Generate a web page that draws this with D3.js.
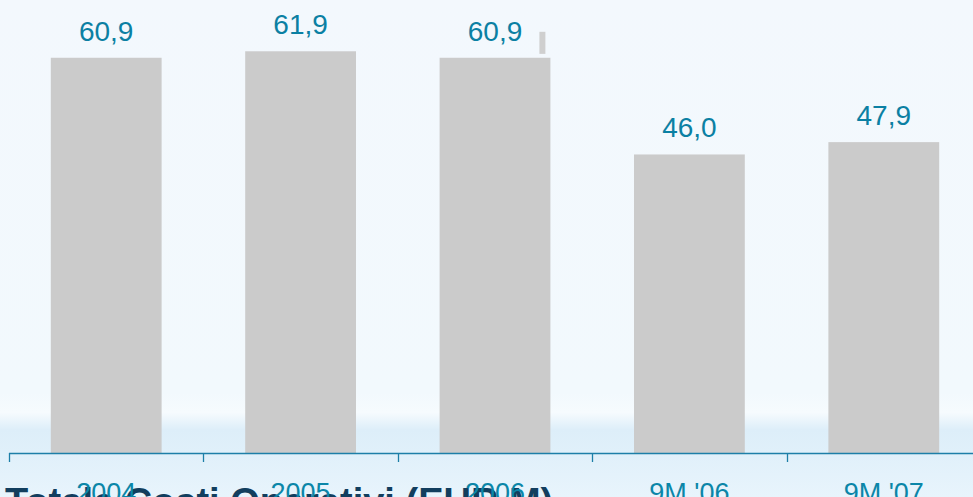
<!DOCTYPE html>
<html>
<head>
<meta charset="utf-8">
<script src="https://cdn.jsdelivr.net/npm/d3@7"></script>
<style>
  html, body { margin: 0; padding: 0; overflow: hidden; }
  svg { display: block; font-family: "Liberation Sans", Arial, sans-serif; }
</style>
</head>
<body>
<svg id="chart"></svg>
<script>
// values
const categories = ['2004', '2005', '2006', "9M '06", "9M '07"];
const costs = [60.9, 61.9, 60.9, 46.0, 47.9];
const valueLabels = ['60,9', '61,9', '60,9', '46,0', '47,9'];
const title = 'Totale Costi Operativi (EUR M)';
// small grey stub next to the 2006 bar
const stubCategory = '2006';
const stubRange = [61.5, 64.9];

const width = 973, height = 497;
const axisY = 453;

const svg = d3.select('#chart')
  .attr('width', width)
  .attr('height', height);

// background
const grad = svg.append('defs').append('linearGradient')
  .attr('id', 'bg')
  .attr('x1', 0).attr('y1', 0).attr('x2', 0).attr('y2', 1);
[[0, '#f3f8fd'], [0.79, '#f2f9fd'], [0.83, '#f6fbfe'], [0.865, '#ddeef9'],
 [0.91, '#e0f0fa'], [1, '#e8f4fc']].forEach(s => {
  grad.append('stop').attr('offset', s[0]).attr('stop-color', s[1]);
});
svg.append('rect')
  .attr('width', width).attr('height', height)
  .attr('fill', 'url(#bg)');

const x = d3.scaleBand()
  .domain(categories)
  .range([9, 981])
  .paddingInner(0.43)
  .paddingOuter(0.215);

const y = d3.scaleLinear()
  .domain([0, 69.8])
  .range([axisY, 0]);

// bars
svg.selectAll('.bar')
  .data(costs)
  .enter()
  .append('rect')
  .attr('class', 'bar')
  .attr('x', (d, i) => x(categories[i]))
  .attr('y', d => y(d))
  .attr('width', x.bandwidth())
  .attr('height', d => axisY - y(d))
  .attr('fill', '#cbcbcb');

svg.append('rect')
  .attr('x', x(stubCategory) + x.bandwidth() - 11)
  .attr('y', y(stubRange[1]))
  .attr('width', 6)
  .attr('height', y(stubRange[0]) - y(stubRange[1]))
  .attr('fill', '#cfcfcf');

// value labels
svg.selectAll('.val')
  .data(costs)
  .enter()
  .append('text')
  .attr('class', 'val')
  .attr('x', (d, i) => x(categories[i]) + x.bandwidth() / 2)
  .attr('y', d => y(d) - 17)
  .attr('text-anchor', 'middle')
  .attr('font-size', 28)
  .attr('fill', '#0b80a3')
  .text((d, i) => valueLabels[i]);

// axis line and boundary ticks
const step = x.step();
const x0 = x(categories[0]) - step * x.paddingInner() / 2;
svg.append('line')
  .attr('x1', x0).attr('x2', width)
  .attr('y1', axisY + 0.5).attr('y2', axisY + 0.5)
  .attr('stroke', '#1d7fa8')
  .attr('stroke-width', 1.5);
svg.selectAll('.tick')
  .data(d3.range(categories.length + 1))
  .enter()
  .append('line')
  .attr('x1', i => Math.round(x0 + i * step) + 0.5)
  .attr('x2', i => Math.round(x0 + i * step) + 0.5)
  .attr('y1', axisY)
  .attr('y2', axisY + 9)
  .attr('stroke', '#1d7fa8')
  .attr('stroke-width', 1.3);

// title (sits under the tick labels, cut by the bottom edge as in the source)
svg.append('text')
  .attr('x', 5)
  .attr('y', 515)
  .attr('font-size', 38)
  .attr('font-weight', 'bold')
  .attr('fill', '#123e5e')
  .text(title);

// category labels
svg.selectAll('.cat')
  .data(categories)
  .enter()
  .append('text')
  .attr('class', 'cat')
  .attr('x', d => x(d) + x.bandwidth() / 2)
  .attr('y', 502)
  .attr('text-anchor', 'middle')
  .attr('font-size', 27)
  .attr('fill', '#0b86a8')
  .text(d => d);
</script>
</body>
</html>
